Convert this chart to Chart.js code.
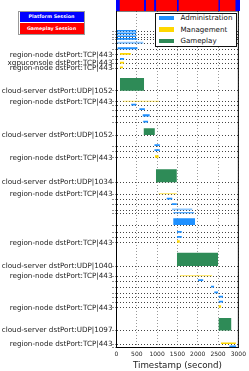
<!DOCTYPE html>
<html>
<head>
<meta charset="utf-8">
<script src="https://cdn.jsdelivr.net/npm/chart.js@4/dist/chart.umd.min.js"></script>
<style>
  html, body { margin: 0; padding: 0; background: #fff; }
  #wrap { position: relative; width: 249px; height: 371px; overflow: hidden; font-family: "DejaVu Sans", sans-serif; }
  #main { position: absolute; left: 0; top: 0; }
  #strip { position: absolute; left: 116px; top: 0; }
  #sessLegend { position: absolute; left: 18px; top: 10.5px; width: 67px; height: 24px; box-sizing: border-box; border: 1px solid #999; background: #fff; }
  .sess { position: absolute; left: 0.5px; width: 64px; color: #fff; font-weight: bold; font-size: 4.8px; text-align: center; }
  #legend { position: absolute; left: 155px; top: 12.5px; width: 82px; height: 34px; box-sizing: border-box; border: 1px solid #111; background: #fff; }
  .sw { position: absolute; left: 3px; width: 15px; height: 4.7px; }
  .lt { position: absolute; left: 24.5px; font-size: 7.1px; color: #111; line-height: 8px; }
</style>
</head>
<body>
<div id="wrap">
  <canvas id="main" width="249" height="371"></canvas>
  <canvas id="strip" width="124" height="11"></canvas>
  <div id="sessLegend">
    <div class="sess" style="top:0.5px;height:10px;line-height:10px;background:#0000ff">Platform Session</div>
    <div class="sess" style="top:11px;height:11px;line-height:11px;background:#ff0000">Gameplay Session</div>
  </div>
  <div id="legend"></div>
</div>
<script>
// rows of the timeline (y in plot units, 0 = top)
const rowLabels = [
  '', '', '', '', '', '',
  'region-node dstPort:TCP|443', '',
  'xgpuconsole dstPort:TCP|443', 'region-node dstPort:TCP|443',
  'cloud-server dstPort:UDP|1052', 'region-node dstPort:TCP|443',
  '', '', '', '',
  'cloud-server dstPort:UDP|1052', '', '',
  'region-node dstPort:TCP|443',
  'cloud-server dstPort:UDP|1034', 'region-node dstPort:TCP|443',
  '', '', '', '', '', '', '',
  'region-node dstPort:TCP|443',
  'cloud-server dstPort:UDP|1040', 'region-node dstPort:TCP|443',
  '', '', '', '', '',
  'region-node dstPort:TCP|443',
  'cloud-server dstPort:UDP|1097', 'region-node dstPort:TCP|443', ''
];
const rowPos = [
  20.6, 23.2, 26.0, 28.7, 32.8, 38.3,
  43.7, 48.8, 52.5, 57.3,
  79.7, 90.7, 94.5, 99, 105.5, 111.5,
  124, 135, 140, 146.7,
  171.3, 183.3, 188.5, 194, 199.3, 202.3, 214, 221.7, 226.7, 231.7,
  255, 265.3, 270, 276.5, 282.3, 286.5, 291.5, 296.8,
  319.5, 333, 336.3
];

// flows: row index, start / end (s), extent in row units, kind
// kind: A admin, a admin (faded), M management, m management (faded), G gameplay
const barRow = [0,1,2,3,4,5,6,7,8,9,10,11,12,13,14,15,16,17,18,19,20,21,22,23,24,25,26,27,28,29,30,31,32,33,34,35,36,37,38,39,40];
const barStart = [0,0,0,0,0,20,84,84,84,84,84,150,360,560,640,655,665,930,930,945,970,1033,1230,1353,1363,1395,1395,1486,1486,1486,1486,1560,2002,2322,2404,2510,2510,2510,2510,2570,2775];
const barEnd = [490,490,490,515,665,520,354,190,190,160,680,1050,490,700,820,780,945,1068,1068,1040,1486,1486,1378,1486,1870,1912,1936,1609,1609,1560,2502,2360,2140,2404,2502,2625,2625,2580,2830,2940,2950];
const barSpan = [1.6,1.6,1.6,1.6,2,2,1.7,1.7,1.7,1.7,12.7,1,1.8,1.8,2.2,1.8,6.7,1.8,1.8,2.5,13,1.2,1.8,1.8,1.8,1,6.7,1.8,1.8,2.5,13.3,1.2,1.8,1.8,1.8,1.8,1.8,2.5,12.4,1.5,1.8];
const barKind = ['A','A','A','A','a','A','M','A','M','M','G','m','A','A','A','A','G','A','A','M','G','m','A','A','a','A','A','A','A','M','G','m','A','A','A','A','A','M','G','M','A'];

// session strip
const platformSessions = [[0, 3000]];
const gameplaySessions = [[84, 680], [723, 927], [970, 1476], [1510, 2485], [2510, 2896]];

const xTicks = [0, 500, 1000, 1500, 2000, 2500, 3000];
const legendNames = ['Administration', 'Management', 'Gameplay'];

const kindColor = {
  A: '#1e90ff', a: 'rgba(30,144,255,0.5)',
  M: '#ffd700', m: 'rgba(255,215,0,0.55)',
  G: '#2e8b57'
};
const legendColors = ['#1e90ff', '#ffd700', '#2e8b57'];

Chart.defaults.font.family = '"DejaVu Sans", sans-serif';

function rectSet(x0, x1, yTop, yBase, color) {
  return {
    data: [{x: x0, y: yTop}, {x: x1, y: yTop}],
    fill: {value: yBase},
    backgroundColor: color,
    borderColor: 'rgba(0,0,0,0)',
    borderWidth: 0,
    pointRadius: 0,
    pointHoverRadius: 0
  };
}

const barSets = barStart.map((s, i) => {
  const base = rowPos[barRow[i]];
  return rectSet(s, barEnd[i], base - barSpan[i], base, kindColor[barKind[i]]);
});

const frame = {
  id: 'frame',
  afterDraw(chart) {
    const {ctx, chartArea: a} = chart;
    ctx.save();
    ctx.strokeStyle = '#000';
    ctx.lineWidth = 1;
    ctx.beginPath();
    ctx.moveTo(a.left, a.top);
    ctx.lineTo(a.right, a.top);
    ctx.lineTo(a.right, a.bottom);
    ctx.stroke();
    ctx.restore();
  }
};

new Chart(document.getElementById('main'), {
  type: 'line',
  data: {datasets: barSets},
  plugins: [frame],
  options: {
    responsive: false,
    animation: false,
    devicePixelRatio: 1,
    layout: {padding: {top: 11, right: 9, left: 0, bottom: 0}},
    plugins: {legend: {display: false}, tooltip: {enabled: false}},
    scales: {
      x: {
        type: 'linear', min: 0, max: 3000,
        afterBuildTicks: (s) => { s.ticks = xTicks.map((v) => ({value: v})); },
        afterFit: (s) => { s.height = 23.5; },
        ticks: {autoSkip: false, maxRotation: 0, padding: 3, color: '#222', font: {size: 6},
          callback: (v) => String(v)},
        grid: {color: '#999', drawTicks: false},
        border: {color: '#000', dash: [1, 2]},
        title: {display: true, text: 'Timestamp (second)', color: '#222', font: {size: 8.7}, padding: {top: 0, bottom: 0}}
      },
      y: {
        type: 'linear', reverse: true, min: 0, max: 336.5,
        afterBuildTicks: (s) => { s.ticks = rowPos.map((v) => ({value: v})); },
        afterFit: (s) => { s.width = 116.5; },
        ticks: {autoSkip: false, padding: 0, color: '#222', font: {size: 7.2},
          callback: (v, i) => rowLabels[i]},
        grid: {color: '#444', tickLength: 4, tickColor: '#222', tickBorderDash: [1, 2]},
        border: {color: '#000', dash: [1, 2]}
      }
    }
  }
});

// gameplay first so it is drawn above the platform band
const stripSets = gameplaySessions.map((g) => rectSet(g[0], g[1], 1, 0, '#ff0000'))
  .concat(platformSessions.map((p) => rectSet(p[0], p[1], 1, 0, '#0000ff')));

new Chart(document.getElementById('strip'), {
  type: 'line',
  data: {datasets: stripSets},
  options: {
    responsive: false,
    animation: false,
    devicePixelRatio: 1,
    layout: {padding: 0},
    plugins: {legend: {display: false}, tooltip: {enabled: false}},
    scales: {
      x: {type: 'linear', min: 0, max: 3000, display: false},
      y: {type: 'linear', min: 0, max: 1, display: false}
    }
  }
});

// legend
const legendEl = document.getElementById('legend');
const legendTops = [2, 13.5, 25];
legendNames.forEach((name, i) => {
  const sw = document.createElement('div');
  sw.className = 'sw';
  sw.style.top = (legendTops[i] + 0.2) + 'px';
  sw.style.background = legendColors[i];
  legendEl.appendChild(sw);
  const t = document.createElement('div');
  t.className = 'lt';
  t.style.top = (legendTops[i] - 1.5) + 'px';
  t.textContent = name;
  legendEl.appendChild(t);
});
</script>
</body>
</html>
